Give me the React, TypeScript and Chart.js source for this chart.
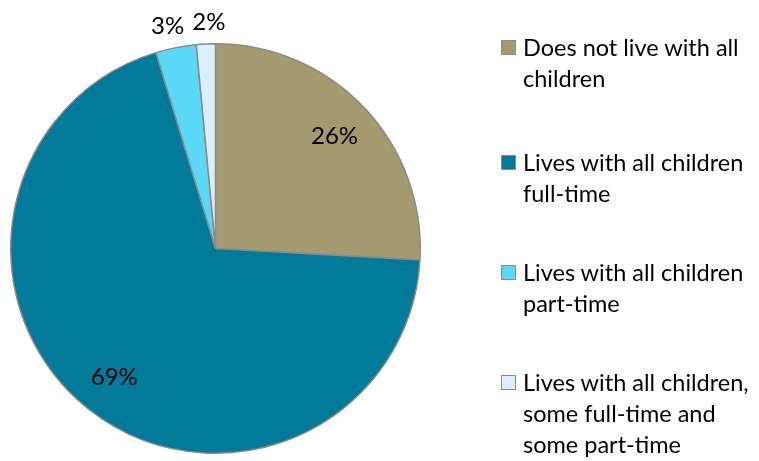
import React, { useEffect, useRef } from "react";
import { Chart, registerables } from "chart.js";

Chart.register(...registerables);

const categories: string[] = [
  "Does not live with all children",
  "Lives with all children full-time",
  "Lives with all children part-time",
  "Lives with all children, some full-time and some part-time",
];
const legendLines: string[][] = [
  ["Does not live with all", "children"],
  ["Lives with all children", "full-time"],
  ["Lives with all children", "part-time"],
  ["Lives with all children,", "some full-time and", "some part-time"],
];
const shares: number[] = [25.9, 69.4, 3.2, 1.5];
const colors: string[] = ["#A39B6F", "#027A99", "#5AD8F8", "#DCF0FB"];

const FONT = "Lato, 'Open Sans', sans-serif";

const labelPlugin = {
  id: "pieLabels",
  afterDatasetsDraw(chart: any) {
    const ctx = chart.ctx;
    const meta = chart.getDatasetMeta(0);
    ctx.save();
    ctx.fillStyle = "#000";
    ctx.font = `24px ${FONT}`;
    ctx.textAlign = "center";
    ctx.textBaseline = "middle";
    meta.data.forEach((arc: any, i: number) => {
      const p = arc.getProps(["x", "y", "startAngle", "endAngle", "outerRadius"], true);
      const mid = (p.startAngle + p.endAngle) / 2;
      const v = shares[i];
      const dist = v >= 10 ? p.outerRadius * 0.8 : p.outerRadius + 22;
      const tx = p.x + Math.cos(mid) * dist + (v < 10 ? (v >= 2 ? -4 : 4) : 0);
      const ty = p.y + Math.sin(mid) * dist;
      ctx.fillText(`${Math.round(v)}%`, tx, ty);
    });
    ctx.restore();
  },
};

export default function App() {
  const ref = useRef<HTMLCanvasElement | null>(null);
  useEffect(() => {
    if (!ref.current) return;
    const chart = new Chart(ref.current, {
      type: "pie",
      data: {
        labels: categories,
        datasets: [
          {
            data: shares,
            backgroundColor: colors,
            borderColor: "#8A8A8A",
            borderWidth: 1.5,
          },
        ],
      },
      options: {
        animation: false,
        responsive: false,
        maintainAspectRatio: false,
        layout: { padding: { top: 42, bottom: 6, left: 10, right: 338 } },
        plugins: { legend: { display: false }, tooltip: { enabled: false } },
      },
      plugins: [labelPlugin],
    });
    return () => chart.destroy();
  }, []);

  return (
    <div style={{ position: "absolute", left: 0, top: 0, width: 759, height: 461, background: "#fff", overflow: "hidden" }}>
      <canvas ref={ref} width={759} height={461} style={{ position: "absolute", left: 0, top: 0 }} />
      {legendLines.map((lines, i) => (
        <div
          key={i}
          style={{
            position: "absolute",
            left: 501,
            top: 32 + i * 110 + (i > 0 ? 5 : 0),
            fontFamily: FONT,
            fontSize: 23.5,
            lineHeight: "31px",
            color: "#000",
            whiteSpace: "nowrap",
          }}
        >
          <span
            style={{
              position: "absolute",
              left: 0,
              top: 8,
              width: 13,
              height: 13,
              background: colors[i],
              border: "1.5px solid #8A8A8A",
            }}
          />
          <div style={{ marginLeft: 22 }}>
            {lines.map((l, j) => (
              <div key={j}>{l}</div>
            ))}
          </div>
        </div>
      ))}
    </div>
  );
}
